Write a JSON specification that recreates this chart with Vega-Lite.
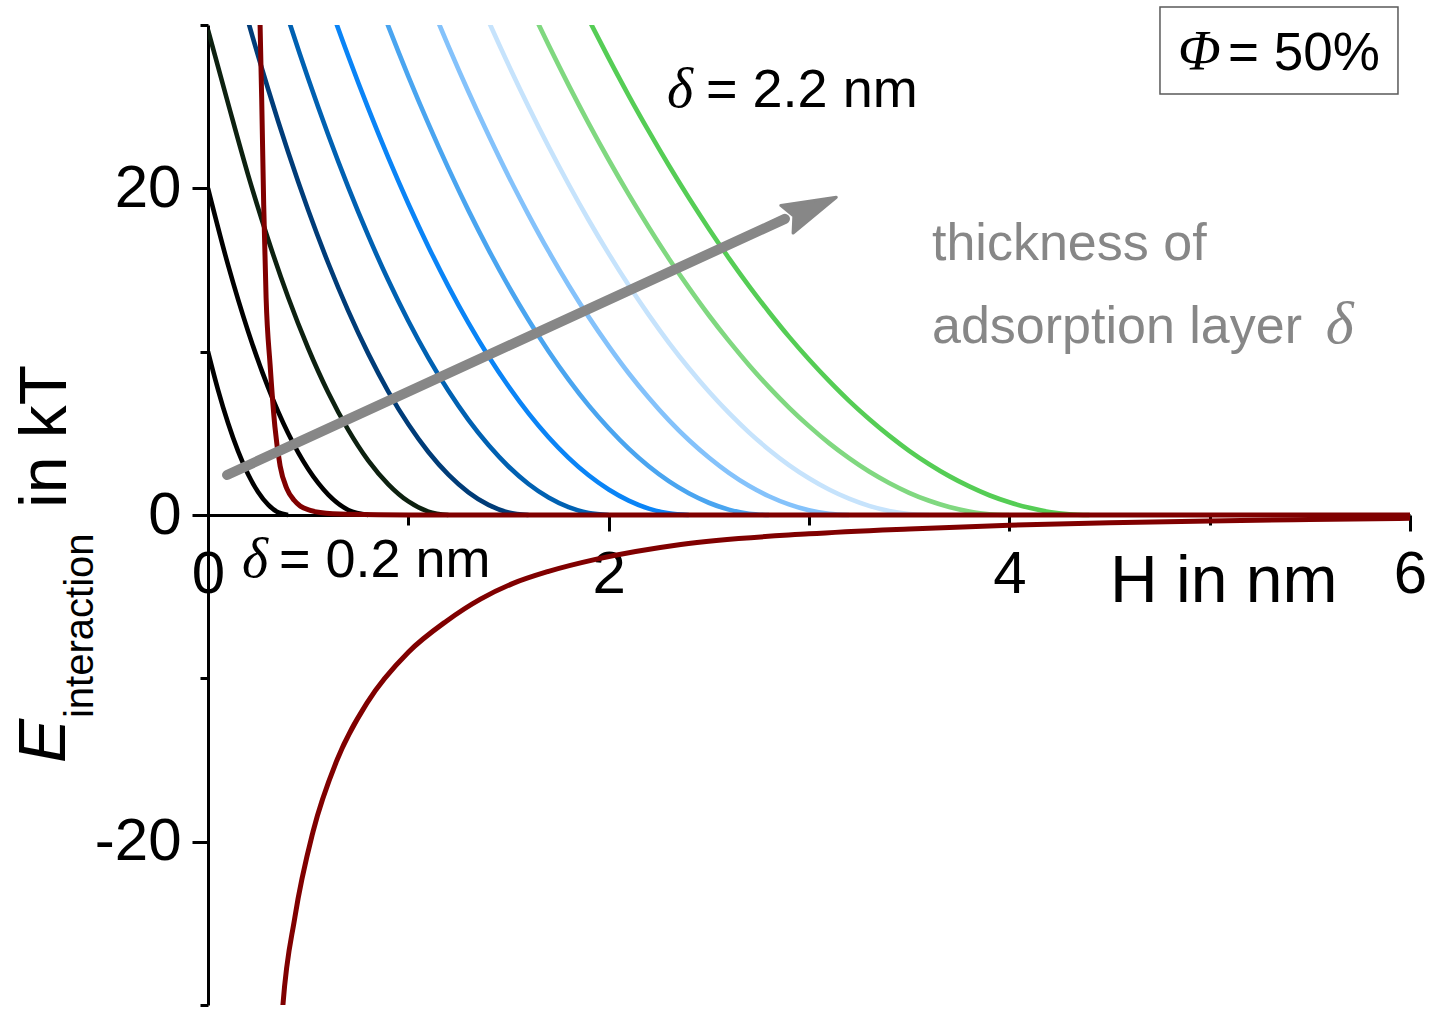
{
  "$schema": "https://vega.github.io/schema/vega-lite/v6.json",
  "width": 1202,
  "height": 980,
  "autosize": {"type": "none"},
  "padding": {"left": 208, "top": 25, "right": 23, "bottom": 4},
  "background": "white",
  "config": {"view": {"stroke": null}, "font": "Liberation Sans"},
  "datasets": {
    "steric": [
      {"c": "0.2", "H": 0, "E": 10}, {"c": "0.2", "H": 0.05, "E": 7.66}, {"c": "0.2", "H": 0.1, "E": 5.63}, {"c": "0.2", "H": 0.15, "E": 3.91}, {"c": "0.2", "H": 0.2, "E": 2.5}, {"c": "0.2", "H": 0.25, "E": 1.41}, {"c": "0.2", "H": 0.3, "E": 0.63}, {"c": "0.2", "H": 0.35, "E": 0.16}, {"c": "0.2", "H": 0.4, "E": 0},
      {"c": "0.4", "H": 0, "E": 20}, {"c": "0.4", "H": 0.1, "E": 15.31}, {"c": "0.4", "H": 0.2, "E": 11.25}, {"c": "0.4", "H": 0.3, "E": 7.81}, {"c": "0.4", "H": 0.4, "E": 5.0}, {"c": "0.4", "H": 0.5, "E": 2.81}, {"c": "0.4", "H": 0.6, "E": 1.25}, {"c": "0.4", "H": 0.7, "E": 0.31}, {"c": "0.4", "H": 0.8, "E": 0},
      {"c": "0.6", "H": 0, "E": 29.7}, {"c": "0.6", "H": 0.1, "E": 25.21}, {"c": "0.6", "H": 0.2, "E": 20.83}, {"c": "0.6", "H": 0.3, "E": 16.88}, {"c": "0.6", "H": 0.4, "E": 13.33}, {"c": "0.6", "H": 0.5, "E": 10.21}, {"c": "0.6", "H": 0.6, "E": 7.5}, {"c": "0.6", "H": 0.7, "E": 5.21}, {"c": "0.6", "H": 0.8, "E": 3.33}, {"c": "0.6", "H": 0.9, "E": 1.88}, {"c": "0.6", "H": 1.0, "E": 0.83}, {"c": "0.6", "H": 1.1, "E": 0.21}, {"c": "0.6", "H": 1.2, "E": 0},
      {"c": "0.8", "H": 0, "E": 39.5}, {"c": "0.8", "H": 0.1, "E": 34.72}, {"c": "0.8", "H": 0.2, "E": 30.24}, {"c": "0.8", "H": 0.3, "E": 26.08}, {"c": "0.8", "H": 0.4, "E": 22.22}, {"c": "0.8", "H": 0.5, "E": 18.67}, {"c": "0.8", "H": 0.6, "E": 15.43}, {"c": "0.8", "H": 0.7, "E": 12.5}, {"c": "0.8", "H": 0.8, "E": 9.88}, {"c": "0.8", "H": 0.9, "E": 7.56}, {"c": "0.8", "H": 1.0, "E": 5.55}, {"c": "0.8", "H": 1.1, "E": 3.86}, {"c": "0.8", "H": 1.2, "E": 2.47}, {"c": "0.8", "H": 1.3, "E": 1.39}, {"c": "0.8", "H": 1.4, "E": 0.62}, {"c": "0.8", "H": 1.5, "E": 0.15}, {"c": "0.8", "H": 1.6, "E": 0},
      {"c": "1.0", "H": 0.2, "E": 38.48}, {"c": "1.0", "H": 0.3, "E": 34.32}, {"c": "1.0", "H": 0.4, "E": 30.4}, {"c": "1.0", "H": 0.5, "E": 26.72}, {"c": "1.0", "H": 0.6, "E": 23.28}, {"c": "1.0", "H": 0.7, "E": 20.07}, {"c": "1.0", "H": 0.8, "E": 17.1}, {"c": "1.0", "H": 0.9, "E": 14.37}, {"c": "1.0", "H": 1.0, "E": 11.88}, {"c": "1.0", "H": 1.1, "E": 9.62}, {"c": "1.0", "H": 1.2, "E": 7.6}, {"c": "1.0", "H": 1.3, "E": 5.82}, {"c": "1.0", "H": 1.4, "E": 4.28}, {"c": "1.0", "H": 1.5, "E": 2.97}, {"c": "1.0", "H": 1.6, "E": 1.9}, {"c": "1.0", "H": 1.7, "E": 1.07}, {"c": "1.0", "H": 1.8, "E": 0.48}, {"c": "1.0", "H": 1.9, "E": 0.12}, {"c": "1.0", "H": 2.0, "E": 0},
      {"c": "1.2", "H": 0.4, "E": 38.89}, {"c": "1.2", "H": 0.5, "E": 35.1}, {"c": "1.2", "H": 0.6, "E": 31.5}, {"c": "1.2", "H": 0.7, "E": 28.1}, {"c": "1.2", "H": 0.8, "E": 24.89}, {"c": "1.2", "H": 0.9, "E": 21.88}, {"c": "1.2", "H": 1.0, "E": 19.06}, {"c": "1.2", "H": 1.1, "E": 16.43}, {"c": "1.2", "H": 1.2, "E": 14.0}, {"c": "1.2", "H": 1.3, "E": 11.76}, {"c": "1.2", "H": 1.4, "E": 9.72}, {"c": "1.2", "H": 1.5, "E": 7.88}, {"c": "1.2", "H": 1.6, "E": 6.22}, {"c": "1.2", "H": 1.7, "E": 4.76}, {"c": "1.2", "H": 1.8, "E": 3.5}, {"c": "1.2", "H": 1.9, "E": 2.43}, {"c": "1.2", "H": 2.0, "E": 1.56}, {"c": "1.2", "H": 2.1, "E": 0.88}, {"c": "1.2", "H": 2.2, "E": 0.39}, {"c": "1.2", "H": 2.3, "E": 0.1}, {"c": "1.2", "H": 2.4, "E": 0},
      {"c": "1.4", "H": 0.6, "E": 40.13}, {"c": "1.4", "H": 0.7, "E": 36.56}, {"c": "1.4", "H": 0.8, "E": 33.16}, {"c": "1.4", "H": 0.9, "E": 29.93}, {"c": "1.4", "H": 1.0, "E": 26.86}, {"c": "1.4", "H": 1.1, "E": 23.96}, {"c": "1.4", "H": 1.2, "E": 21.22}, {"c": "1.4", "H": 1.3, "E": 18.65}, {"c": "1.4", "H": 1.4, "E": 16.25}, {"c": "1.4", "H": 1.5, "E": 14.01}, {"c": "1.4", "H": 1.6, "E": 11.94}, {"c": "1.4", "H": 1.7, "E": 10.03}, {"c": "1.4", "H": 1.8, "E": 8.29}, {"c": "1.4", "H": 1.9, "E": 6.71}, {"c": "1.4", "H": 2.0, "E": 5.31}, {"c": "1.4", "H": 2.1, "E": 4.06}, {"c": "1.4", "H": 2.2, "E": 2.98}, {"c": "1.4", "H": 2.3, "E": 2.07}, {"c": "1.4", "H": 2.4, "E": 1.33}, {"c": "1.4", "H": 2.5, "E": 0.75}, {"c": "1.4", "H": 2.6, "E": 0.33}, {"c": "1.4", "H": 2.7, "E": 0.08}, {"c": "1.4", "H": 2.8, "E": 0},
      {"c": "1.6", "H": 0.9, "E": 37.97}, {"c": "1.6", "H": 1.0, "E": 34.74}, {"c": "1.6", "H": 1.1, "E": 31.65}, {"c": "1.6", "H": 1.2, "E": 28.71}, {"c": "1.6", "H": 1.3, "E": 25.91}, {"c": "1.6", "H": 1.4, "E": 23.26}, {"c": "1.6", "H": 1.5, "E": 20.74}, {"c": "1.6", "H": 1.6, "E": 18.38}, {"c": "1.6", "H": 1.7, "E": 16.15}, {"c": "1.6", "H": 1.8, "E": 14.07}, {"c": "1.6", "H": 1.9, "E": 12.13}, {"c": "1.6", "H": 2.0, "E": 10.34}, {"c": "1.6", "H": 2.1, "E": 8.68}, {"c": "1.6", "H": 2.2, "E": 7.18}, {"c": "1.6", "H": 2.3, "E": 5.81}, {"c": "1.6", "H": 2.4, "E": 4.59}, {"c": "1.6", "H": 2.5, "E": 3.52}, {"c": "1.6", "H": 2.6, "E": 2.58}, {"c": "1.6", "H": 2.7, "E": 1.79}, {"c": "1.6", "H": 2.8, "E": 1.15}, {"c": "1.6", "H": 2.9, "E": 0.65}, {"c": "1.6", "H": 3.0, "E": 0.29}, {"c": "1.6", "H": 3.1, "E": 0.07}, {"c": "1.6", "H": 3.2, "E": 0},
      {"c": "1.8", "H": 1.2, "E": 36.0}, {"c": "1.8", "H": 1.3, "E": 33.06}, {"c": "1.8", "H": 1.4, "E": 30.25}, {"c": "1.8", "H": 1.5, "E": 27.56}, {"c": "1.8", "H": 1.6, "E": 25.0}, {"c": "1.8", "H": 1.7, "E": 22.56}, {"c": "1.8", "H": 1.8, "E": 20.25}, {"c": "1.8", "H": 1.9, "E": 18.06}, {"c": "1.8", "H": 2.0, "E": 16.0}, {"c": "1.8", "H": 2.1, "E": 14.06}, {"c": "1.8", "H": 2.2, "E": 12.25}, {"c": "1.8", "H": 2.3, "E": 10.56}, {"c": "1.8", "H": 2.4, "E": 9.0}, {"c": "1.8", "H": 2.5, "E": 7.56}, {"c": "1.8", "H": 2.6, "E": 6.25}, {"c": "1.8", "H": 2.7, "E": 5.06}, {"c": "1.8", "H": 2.8, "E": 4.0}, {"c": "1.8", "H": 2.9, "E": 3.06}, {"c": "1.8", "H": 3.0, "E": 2.25}, {"c": "1.8", "H": 3.1, "E": 1.56}, {"c": "1.8", "H": 3.2, "E": 1.0}, {"c": "1.8", "H": 3.3, "E": 0.56}, {"c": "1.8", "H": 3.4, "E": 0.25}, {"c": "1.8", "H": 3.5, "E": 0.06}, {"c": "1.8", "H": 3.6, "E": 0},
      {"c": "2.0", "H": 1.4, "E": 36.76}, {"c": "2.0", "H": 1.5, "E": 33.98}, {"c": "2.0", "H": 1.6, "E": 31.32}, {"c": "2.0", "H": 1.7, "E": 28.77}, {"c": "2.0", "H": 1.8, "E": 26.32}, {"c": "2.0", "H": 1.9, "E": 23.98}, {"c": "2.0", "H": 2.0, "E": 21.75}, {"c": "2.0", "H": 2.1, "E": 19.63}, {"c": "2.0", "H": 2.2, "E": 17.62}, {"c": "2.0", "H": 2.3, "E": 15.71}, {"c": "2.0", "H": 2.4, "E": 13.92}, {"c": "2.0", "H": 2.5, "E": 12.23}, {"c": "2.0", "H": 2.6, "E": 10.66}, {"c": "2.0", "H": 2.7, "E": 9.19}, {"c": "2.0", "H": 2.8, "E": 7.83}, {"c": "2.0", "H": 2.9, "E": 6.58}, {"c": "2.0", "H": 3.0, "E": 5.44}, {"c": "2.0", "H": 3.1, "E": 4.4}, {"c": "2.0", "H": 3.2, "E": 3.48}, {"c": "2.0", "H": 3.3, "E": 2.66}, {"c": "2.0", "H": 3.4, "E": 1.96}, {"c": "2.0", "H": 3.5, "E": 1.36}, {"c": "2.0", "H": 3.6, "E": 0.87}, {"c": "2.0", "H": 3.7, "E": 0.49}, {"c": "2.0", "H": 3.8, "E": 0.22}, {"c": "2.0", "H": 3.9, "E": 0.05}, {"c": "2.0", "H": 4.0, "E": 0},
      {"c": "2.2", "H": 1.7, "E": 35.39}, {"c": "2.2", "H": 1.8, "E": 32.82}, {"c": "2.2", "H": 1.9, "E": 30.35}, {"c": "2.2", "H": 2.0, "E": 27.97}, {"c": "2.2", "H": 2.1, "E": 25.68}, {"c": "2.2", "H": 2.2, "E": 23.5}, {"c": "2.2", "H": 2.3, "E": 21.41}, {"c": "2.2", "H": 2.4, "E": 19.42}, {"c": "2.2", "H": 2.5, "E": 17.53}, {"c": "2.2", "H": 2.6, "E": 15.73}, {"c": "2.2", "H": 2.7, "E": 14.03}, {"c": "2.2", "H": 2.8, "E": 12.43}, {"c": "2.2", "H": 2.9, "E": 10.92}, {"c": "2.2", "H": 3.0, "E": 9.52}, {"c": "2.2", "H": 3.1, "E": 8.21}, {"c": "2.2", "H": 3.2, "E": 6.99}, {"c": "2.2", "H": 3.3, "E": 5.88}, {"c": "2.2", "H": 3.4, "E": 4.86}, {"c": "2.2", "H": 3.5, "E": 3.93}, {"c": "2.2", "H": 3.6, "E": 3.11}, {"c": "2.2", "H": 3.7, "E": 2.38}, {"c": "2.2", "H": 3.8, "E": 1.75}, {"c": "2.2", "H": 3.9, "E": 1.21}, {"c": "2.2", "H": 4.0, "E": 0.78}, {"c": "2.2", "H": 4.1, "E": 0.44}, {"c": "2.2", "H": 4.2, "E": 0.19}, {"c": "2.2", "H": 4.3, "E": 0.05}, {"c": "2.2", "H": 4.4, "E": 0}
    ],
    "core": [
      {"c": "repulsion", "H": 0.25, "E": 38}, {"c": "repulsion", "H": 0.26, "E": 30}, {"c": "repulsion", "H": 0.268, "E": 25.5}, {"c": "repulsion", "H": 0.278, "E": 19}, {"c": "repulsion", "H": 0.29, "E": 13.3}, {"c": "repulsion", "H": 0.31, "E": 9.2}, {"c": "repulsion", "H": 0.334, "E": 5.4}, {"c": "repulsion", "H": 0.36, "E": 3.0}, {"c": "repulsion", "H": 0.394, "E": 1.6}, {"c": "repulsion", "H": 0.43, "E": 0.9}, {"c": "repulsion", "H": 0.46, "E": 0.55}, {"c": "repulsion", "H": 0.51, "E": 0.28}, {"c": "repulsion", "H": 0.56, "E": 0.15}, {"c": "repulsion", "H": 0.7, "E": 0.04}, {"c": "repulsion", "H": 1.0, "E": 0}, {"c": "repulsion", "H": 6.0, "E": 0},
      {"c": "vdw", "H": 0.35, "E": -34.5}, {"c": "vdw", "H": 0.374, "E": -30}, {"c": "vdw", "H": 0.434, "E": -24.6}, {"c": "vdw", "H": 0.524, "E": -19.4}, {"c": "vdw", "H": 0.644, "E": -15.0}, {"c": "vdw", "H": 0.794, "E": -11.5}, {"c": "vdw", "H": 1.0, "E": -8.4}, {"c": "vdw", "H": 1.19, "E": -6.5}, {"c": "vdw", "H": 1.36, "E": -5.15}, {"c": "vdw", "H": 1.52, "E": -4.2}, {"c": "vdw", "H": 1.7, "E": -3.45}, {"c": "vdw", "H": 1.94, "E": -2.7}, {"c": "vdw", "H": 2.36, "E": -1.8}, {"c": "vdw", "H": 3.0, "E": -1.15}, {"c": "vdw", "H": 3.5, "E": -0.85}, {"c": "vdw", "H": 4.0, "E": -0.62}, {"c": "vdw", "H": 4.5, "E": -0.47}, {"c": "vdw", "H": 5.0, "E": -0.36}, {"c": "vdw", "H": 5.5, "E": -0.27}, {"c": "vdw", "H": 6.0, "E": -0.2}
    ]
  },
  "encoding": {
    "x": {
      "field": "H", "type": "quantitative",
      "scale": {"domain": [0, 6], "nice": false, "zero": false},
      "axis": {
        "title": null, "grid": false, "offset": -490,
        "values": [0, 1, 2, 3, 4, 5, 6],
        "domainColor": "black", "domainWidth": 3,
        "tickColor": "black", "tickWidth": 3,
        "tickSize": {"condition": {"test": "datum.value % 2 === 0", "value": 16}, "value": 10},
        "labelExpr": "datum.value % 2 === 0 ? datum.label : ''",
        "labelFont": "Liberation Sans", "labelFontSize": 60, "labelColor": "black",
        "labelBaseline": "alphabetic", "labelPadding": 61,
        "labelFlush": false, "labelOverlap": false
      }
    },
    "y": {
      "field": "E", "type": "quantitative",
      "scale": {"domain": [-30, 30], "nice": false},
      "axis": {
        "title": null, "grid": false,
        "values": [-30, -20, -10, 0, 10, 20, 30],
        "domainColor": "black", "domainWidth": 3,
        "tickColor": "black", "tickWidth": 3,
        "tickSize": {"condition": {"test": "datum.value % 20 === 0", "value": 16}, "value": 8},
        "labelExpr": "datum.value % 20 === 0 ? '' + datum.value : ''",
        "labelFont": "Liberation Sans", "labelFontSize": 60, "labelColor": "black",
        "labelPadding": 11, "labelOverlap": false
      }
    }
  },
  "layer": [
    {
      "data": {"name": "steric"},
      "mark": {"type": "line", "strokeWidth": 4.6, "interpolate": "monotone", "clip": true},
      "encoding": {
        "color": {
          "field": "c", "type": "nominal", "legend": null,
          "scale": {
            "domain": ["0.2", "0.4", "0.6", "0.8", "1.0", "1.2", "1.4", "1.6", "1.8", "2.0", "2.2"],
            "range": ["#000000", "#000000", "#0d2110", "#003c78", "#0061b2", "#0a84f6", "#4aa5f0", "#84c2fb", "#c6e3fc", "#80d880", "#55cd55"]
          }
        }
      }
    },
    {
      "data": {"name": "core"},
      "mark": {"type": "line", "strokeWidth": 5, "color": "#800000", "interpolate": "monotone", "clip": true},
      "encoding": {"detail": {"field": "c", "type": "nominal"}}
    },
    {
      "data": {"values": [{"H": 0.095, "E": 2.45}, {"H": 2.88, "E": 18.13}]},
      "mark": {"type": "line", "strokeWidth": 10, "strokeCap": "round", "color": "#878787"},
      "encoding": {}
    },
    {
      "data": {"values": [{"H": 3.013, "E": 18.78}]},
      "mark": {
        "type": "point", "filled": true, "opacity": 1, "color": "#878787",
        "shape": "M1,0 L-1,-0.56 L-0.72,0 L-1,0.56 Z",
        "size": 2916, "angle": 336,
        "stroke": "#878787", "strokeWidth": 3, "strokeJoin": "round"
      }
    },
    {
      "data": {"values": [{"H": 4.752, "H2": 5.94, "E": 31.1, "E2": 25.78}]},
      "mark": {"type": "rect", "fill": "white", "stroke": "#5a5a5a", "strokeWidth": 1.5},
      "encoding": {"x2": {"field": "H2"}, "y2": {"field": "E2"}}
    },
    {
      "data": {"values": [{"t": "= 2.2 nm", "H": 2.486, "E": 24.98}, {"t": "= 0.2 nm", "H": 0.354, "E": -3.8}]},
      "mark": {"type": "text", "align": "left", "baseline": "alphabetic", "font": "Liberation Sans", "fontSize": 54, "color": "black"},
      "encoding": {"text": {"field": "t"}}
    },
    {
      "data": {"values": [{"t": "= 50%", "H": 5.092, "E": 27.24}]},
      "mark": {"type": "text", "align": "left", "baseline": "alphabetic", "font": "Liberation Sans", "fontSize": 53, "color": "black"},
      "encoding": {"text": {"field": "t"}}
    },
    {
      "data": {"values": [{"t": "δ", "H": 2.291, "E": 24.98}, {"t": "δ", "H": 0.17, "E": -3.8}, {"t": "Φ", "H": 4.842, "E": 27.24}]},
      "mark": {"type": "text", "align": "left", "baseline": "alphabetic", "font": "Liberation Serif", "fontStyle": "italic", "fontSize": 56, "color": "black"},
      "encoding": {"text": {"field": "t"}}
    },
    {
      "data": {"values": [{"t": "thickness of", "H": 3.614, "E": 15.61}, {"t": "adsorption layer", "H": 3.614, "E": 10.53}]},
      "mark": {"type": "text", "align": "left", "baseline": "alphabetic", "font": "Liberation Sans", "fontSize": 52, "color": "#878787"},
      "encoding": {"text": {"field": "t"}}
    },
    {
      "data": {"values": [{"t": "δ", "H": 5.58, "E": 10.53}]},
      "mark": {"type": "text", "align": "left", "baseline": "alphabetic", "font": "Liberation Serif", "fontStyle": "italic", "fontSize": 60, "color": "#878787"},
      "encoding": {"text": {"field": "t"}}
    },
    {
      "data": {"values": [{"t": "H in nm", "H": 4.503, "E": -5.33}]},
      "mark": {"type": "text", "align": "left", "baseline": "alphabetic", "font": "Liberation Sans", "fontSize": 66, "color": "black"},
      "encoding": {"text": {"field": "t"}}
    },
    {
      "data": {"values": [{"t": "E", "H": -0.714, "E": -15.18}]},
      "mark": {"type": "text", "align": "left", "baseline": "alphabetic", "angle": 270, "font": "Liberation Sans", "fontStyle": "italic", "fontSize": 66, "color": "black"},
      "encoding": {"text": {"field": "t"}}
    },
    {
      "data": {"values": [{"t": "interaction", "H": -0.574, "E": -12.43}]},
      "mark": {"type": "text", "align": "left", "baseline": "alphabetic", "angle": 270, "font": "Liberation Sans", "fontSize": 40, "color": "black"},
      "encoding": {"text": {"field": "t"}}
    },
    {
      "data": {"values": [{"t": "in kT", "H": -0.709, "E": 0.43}]},
      "mark": {"type": "text", "align": "left", "baseline": "alphabetic", "angle": 270, "font": "Liberation Sans", "fontSize": 66, "color": "black"},
      "encoding": {"text": {"field": "t"}}
    }
  ]
}
